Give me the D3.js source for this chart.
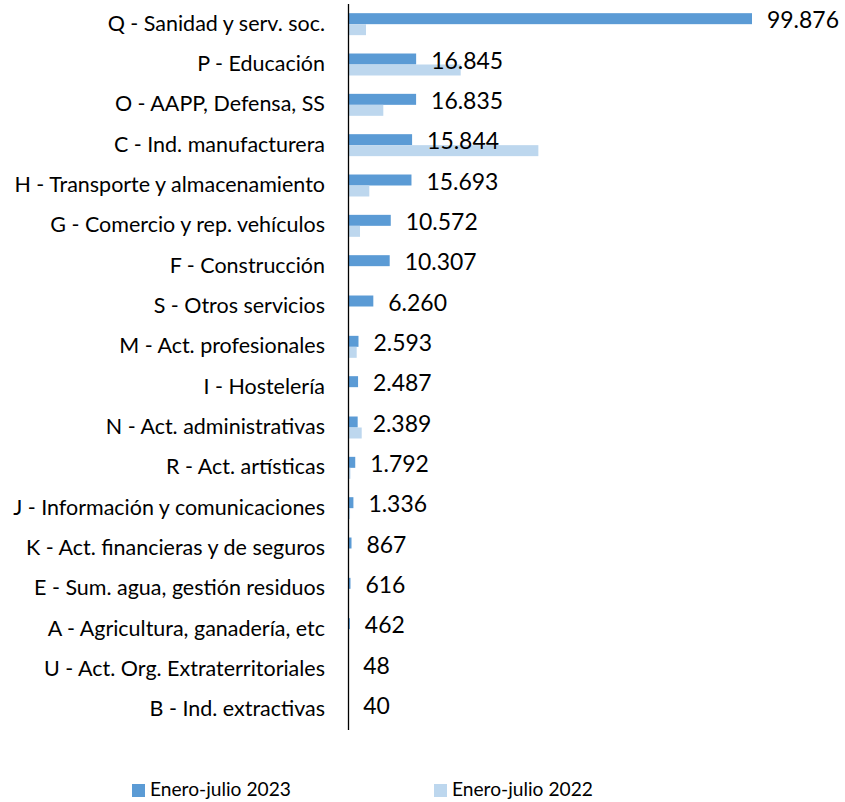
<!DOCTYPE html>
<html>
<head>
<meta charset="utf-8">
<script src="https://cdn.jsdelivr.net/npm/d3@7"></script>
<style>
  body { margin: 0; background: #fff; }
  svg { font-family: Lato, "Open Sans", sans-serif; }
  .cat-label { fill: #000; }
  .value-label { fill: #000; }
  .legend-text { fill: #000; }
</style>
</head>
<body>
<div id="wrapper"></div>
<script>
// 1. Data

const categories = [
    "Q - Sanidad y serv. soc.",
    "P - Educación",
    "O - AAPP, Defensa, SS",
    "C - Ind. manufacturera",
    "H - Transporte y almacenamiento",
    "G - Comercio y rep. vehículos",
    "F - Construcción",
    "S - Otros servicios",
    "M - Act. profesionales",
    "I - Hostelería",
    "N - Act. administrativas",
    "R - Act. artísticas",
    "J - Información y comunicaciones",
    "K - Act. financieras y de seguros",
    "E - Sum. agua, gestión residuos",
    "A - Agricultura, ganadería, etc",
    "U - Act. Org. Extraterritoriales",
    "B - Ind. extractivas",
]
const values2023 = [99876, 16845, 16835, 15844, 15693, 10572, 10307, 6260, 2593, 2487, 2389, 1792, 1336, 867, 616, 462, 48, 40]
// (no labels in the picture)
const values2022 = [4450, 27860, 8730, 47060, 5270, 2970, 0, 0, 2150, 0, 3390, 600, 500, 0, 0, 0, 0, 0]
const seriesNames = ["Enero-julio 2023", "Enero-julio 2022"]
const seriesColors = ["#5b9bd5", "#bdd7ee"]

const rows = categories.map((c, i) => ({
    category: c,
    v2023: values2023[i],
    v2022: values2022[i],
}))

// 2. Dimensions

const width = 845
const height = 802
const axisX = 348
const barsTop = 4
const barsBottom = 730

const svg = d3.select("#wrapper")
    .append("svg")
    .attr("width", width)
    .attr("height", height)

// helper: font size so that a sample string fills a given width
function fitSize(sample, targetWidth) {
    const t = svg.append("text").attr("font-size", 100).text(sample)
    const w = t.node().getComputedTextLength()
    t.remove()
    return 100 * targetWidth / w
}

const catFont = fitSize("J - Información y comunicaciones", 312)
const valueFont = fitSize("16.845", 72)
const legendFont = fitSize("Enero-julio 2023", 141)

// 3. Scales

const xScale = d3.scaleLinear()
    .domain([0, 100000])
    .range([axisX, axisX + 404 * 100000 / 99876])

const yScale = d3.scaleBand()
    .domain(categories)
    .range([barsTop, barsBottom])
    .paddingInner(0.455)
    .paddingOuter(0.2275)

const subScale = d3.scaleBand()
    .domain(["v2023", "v2022"])
    .range([0, yScale.bandwidth()])

// 4. Bars

const groups = svg.selectAll(".row")
    .data(rows)
    .join("g")
    .attr("class", "row")
    .attr("transform", d => `translate(0,${yScale(d.category)})`)

groups.append("rect")
    .attr("x", xScale(0))
    .attr("y", subScale("v2023"))
    .attr("width", d => xScale(d.v2023) - xScale(0))
    .attr("height", subScale.bandwidth())
    .attr("fill", seriesColors[0])

groups.append("rect")
    .attr("x", xScale(0))
    .attr("y", subScale("v2022"))
    .attr("width", d => xScale(d.v2022) - xScale(0))
    .attr("height", subScale.bandwidth())
    .attr("fill", seriesColors[1])

// value labels (only 2023)
const fmt = d3.formatLocale({ decimal: ",", thousands: ".", grouping: [3], currency: ["", "€"] }).format(",d")

groups.append("text")
    .attr("class", "value-label")
    .attr("x", d => xScale(d.v2023) + 15)
    .attr("y", subScale("v2023") + subScale.bandwidth() / 2 + 4)
    .attr("dominant-baseline", "middle")
    .attr("font-size", valueFont)
    .text(d => fmt(d.v2023))

// 5. Axis

const yAxis = d3.axisLeft(yScale).tickSize(0).tickPadding(axisX - 325)
const axisGroup = svg.append("g")
    .attr("transform", `translate(${axisX},0)`)
    .call(yAxis)

axisGroup.select(".domain")
    .attr("d", `M0.5,${barsTop}V${barsBottom}`)
    .attr("stroke", "#000")
    .attr("stroke-width", 1.3)

axisGroup.selectAll(".tick text")
    .attr("class", "cat-label")
    .attr("font-family", "Lato, sans-serif")
    .attr("font-size", catFont)
    .attr("fill", "#000")
    .attr("dy", "0.3em")

// 6. Legend

const legendItems = svg.selectAll(".legend-item")
    .data(seriesNames)
    .join("g")
    .attr("class", "legend-item")
    .attr("transform", (d, i) => `translate(${[132, 434][i]},784)`)

legendItems.append("rect")
    .attr("width", 13)
    .attr("height", 13)
    .attr("fill", (d, i) => seriesColors[i])

legendItems.append("text")
    .attr("class", "legend-text")
    .attr("x", 18)
    .attr("y", 7)
    .attr("dominant-baseline", "middle")
    .attr("font-size", legendFont)
    .text(d => d)
</script>
</body>
</html>
